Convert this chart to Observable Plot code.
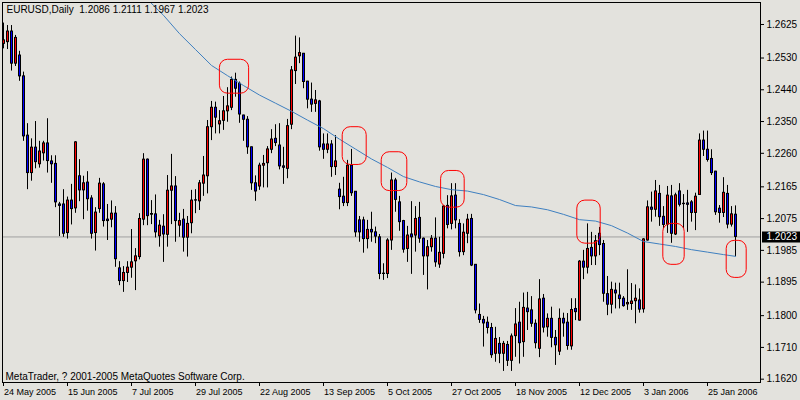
<!DOCTYPE html>
<html><head><meta charset="utf-8">
<script src="https://cdn.jsdelivr.net/npm/d3@7"></script>
<script src="https://cdn.jsdelivr.net/npm/@observablehq/plot@0.6"></script>
<style>
html,body{margin:0;padding:0;background:#e3e2dd;}
#chart{width:800px;height:400px;overflow:hidden;}
</style></head><body><div id="chart"></div>
<script>
const symbol = "EURUSD";
const timeframe = "Daily";
const copyright = "MetaTrader, ? 2001-2005 MetaQuotes Software Corp.";

const opens = [1.2570,1.2575,1.2605,1.2514,1.2537,1.2478,1.2310,1.2204,1.2276,1.2229,
1.2260,1.2288,1.2237,1.2230,1.2115,1.2115,1.2034,1.2126,1.2104,1.2195,
1.2155,1.2177,1.2132,1.2034,1.2102,1.2172,1.2072,1.2072,1.2089,1.1934,
1.1898,1.1921,1.1936,1.1954,1.1966,1.2072,1.2242,1.2088,1.2087,1.2025,
1.2052,1.2029,1.2154,1.2166,1.2055,1.2072,1.2021,1.2062,1.2126,1.2124,
1.2174,1.2195,1.2334,1.2389,1.2342,1.2352,1.2379,1.2389,1.2468,1.2457,
1.2367,1.2355,1.2277,1.2175,1.2166,1.2225,1.2232,1.2270,1.2301,1.2282,
1.2223,1.2216,1.2341,1.2493,1.2535,1.2542,1.2463,1.2412,1.2400,1.2407,
1.2285,1.2270,1.2285,1.2221,1.2157,1.2137,1.2119,1.2225,1.2151,1.2070,
1.2070,1.2017,1.2043,1.2036,1.2022,1.1919,1.1918,1.2013,1.2183,1.2121,
1.2068,1.1989,1.2030,1.2027,1.2077,1.2018,1.1968,1.1994,1.2018,1.1945,
1.1975,1.2111,1.2060,1.2140,1.2060,1.1980,1.2032,1.2074,1.1944,1.1802,
1.1788,1.1780,1.1765,1.1692,1.1720,1.1692,1.1717,1.1672,1.1742,1.1780,
1.1725,1.1820,1.1815,1.1777,1.1706,1.1848,1.1767,1.1791,1.1737,1.1698,
1.1791,1.1780,1.1713,1.1819,1.1786,1.1953,1.1936,1.1992,1.1968,1.2032,
1.2003,1.1861,1.1831,1.1871,1.1857,1.1848,1.1832,1.1833,1.1841,1.1843,
1.1818,1.2013,1.2106,1.2100,1.2145,1.2080,1.2058,1.2138,1.2030,1.2152,
1.2117,1.2118,1.2121,1.2091,1.2142,1.2296,1.2270,1.2244,1.2208,1.2103,
1.2091,1.2145,1.2058,1.2086];
const highs = [1.2629,1.2622,1.2622,1.2594,1.2549,1.2490,1.2344,1.2301,1.2350,1.2294,
1.2294,1.2358,1.2253,1.2253,1.2121,1.2157,1.2136,1.2172,1.2293,1.2242,
1.2195,1.2208,1.2140,1.2106,1.2189,1.2177,1.2115,1.2125,1.2109,1.1953,
1.1939,1.1953,1.2044,1.1990,1.2089,1.2259,1.2244,1.2126,1.2142,1.2070,
1.2086,1.2197,1.2257,1.2194,1.2090,1.2101,1.2081,1.2155,1.2157,1.2183,
1.2251,1.2353,1.2407,1.2405,1.2381,1.2421,1.2446,1.2476,1.2487,1.2462,
1.2368,1.2364,1.2278,1.2196,1.2232,1.2254,1.2279,1.2327,1.2341,1.2344,
1.2277,1.2356,1.2506,1.2592,1.2587,1.2543,1.2464,1.2459,1.2438,1.2410,
1.2315,1.2315,1.2296,1.2310,1.2175,1.2192,1.2240,1.2271,1.2151,1.2081,
1.2079,1.2070,1.2093,1.2051,1.2030,1.1947,1.2018,1.2204,1.2189,1.2138,
1.2070,1.2053,1.2123,1.2109,1.2121,1.2020,1.2013,1.2027,1.2077,1.2022,
1.2112,1.2140,1.2174,1.2174,1.2072,1.2060,1.2087,1.2087,1.1945,1.1833,
1.1798,1.1796,1.1778,1.1767,1.1738,1.1727,1.1727,1.1748,1.1820,1.1838,
1.1864,1.1866,1.1854,1.1788,1.1902,1.1860,1.1805,1.1824,1.1758,1.1819,
1.1807,1.1806,1.1848,1.1848,1.1956,1.1985,1.2060,1.2036,1.2027,1.2050,
1.2013,1.1911,1.1895,1.1892,1.1892,1.1854,1.1930,1.1891,1.1887,1.1876,
1.2018,1.2125,1.2150,1.2183,1.2169,1.2109,1.2166,1.2169,1.2147,1.2174,
1.2143,1.2155,1.2126,1.2147,1.2315,1.2323,1.2323,1.2270,1.2209,1.2112,
1.2191,1.2169,1.2109,1.2111];
const lows = [1.2556,1.2554,1.2493,1.2506,1.2464,1.2294,1.2157,1.2181,1.2216,1.2218,
1.2238,1.2204,1.2175,1.2106,1.2024,1.2022,1.2017,1.2057,1.2090,1.2123,
1.2072,1.2096,1.2017,1.1983,1.2090,1.2051,1.2013,1.2049,1.1937,1.1885,
1.1866,1.1894,1.1906,1.1871,1.1958,1.2055,1.2055,1.2058,1.2020,1.1994,
1.1951,1.1994,1.2058,1.2008,1.2022,1.1980,1.1966,1.2032,1.2089,1.2098,
1.2138,1.2145,1.2296,1.2315,1.2315,1.2325,1.2348,1.2381,1.2419,1.2345,
1.2294,1.2257,1.2155,1.2124,1.2155,1.2162,1.2162,1.2259,1.2279,1.2213,
1.2172,1.2188,1.2327,1.2455,1.2514,1.2443,1.2386,1.2376,1.2376,1.2266,
1.2243,1.2259,1.2192,1.2197,1.2100,1.2109,1.2109,1.2138,1.2022,1.2008,
1.1977,1.1989,1.2008,1.2004,1.1902,1.1900,1.1905,1.1985,1.2093,1.2039,
1.1977,1.1951,1.1917,1.1980,1.2005,1.1914,1.1873,1.1980,1.1937,1.1934,
1.1961,1.2046,1.2043,1.2046,1.1966,1.1970,1.2004,1.1939,1.1805,1.1778,
1.1711,1.1748,1.1679,1.1668,1.1664,1.1642,1.1656,1.1642,1.1682,1.1663,
1.1682,1.1758,1.1767,1.1706,1.1681,1.1751,1.1739,1.1709,1.1659,1.1687,
1.1739,1.1702,1.1702,1.1786,1.1784,1.1902,1.1918,1.1942,1.1942,1.1970,
1.1838,1.1800,1.1805,1.1819,1.1819,1.1824,1.1815,1.1815,1.1777,1.1807,
1.1807,1.2011,1.2065,1.2079,1.2053,1.2046,1.2033,1.2005,1.2027,1.2108,
1.2046,1.2036,1.2065,1.2041,1.2142,1.2251,1.2235,1.2197,1.2084,1.2062,
1.2078,1.2046,1.2051,1.1967];
const closes = [1.2580,1.2605,1.2514,1.2587,1.2478,1.2308,1.2204,1.2276,1.2235,1.2265,
1.2288,1.2238,1.2229,1.2121,1.2111,1.2032,1.2126,1.2102,1.2291,1.2155,
1.2175,1.2130,1.2032,1.2092,1.2174,1.2068,1.2068,1.2089,1.1960,1.1898,
1.1921,1.1936,1.1951,1.1968,1.2074,1.2242,1.2082,1.2086,1.2036,1.2055,
1.2030,1.2154,1.2166,1.2068,1.2068,1.2021,1.2060,1.2126,1.2127,1.2175,
1.2197,1.2334,1.2389,1.2361,1.2351,1.2379,1.2393,1.2468,1.2443,1.2370,
1.2355,1.2277,1.2175,1.2152,1.2225,1.2230,1.2271,1.2299,1.2289,1.2223,
1.2219,1.2337,1.2495,1.2531,1.2544,1.2462,1.2412,1.2398,1.2410,1.2277,
1.2270,1.2285,1.2221,1.2237,1.2136,1.2119,1.2225,1.2147,1.2036,1.2036,
1.2017,1.2043,1.2036,1.2024,1.1918,1.1918,1.2013,1.2183,1.2128,1.2065,
1.1987,1.2027,1.2022,1.2074,1.2018,1.1968,1.1994,1.2018,1.1951,1.1978,
1.2109,1.2057,1.2138,1.2070,1.1980,1.2035,1.2072,1.1942,1.1815,1.1788,
1.1778,1.1765,1.1688,1.1734,1.1692,1.1720,1.1672,1.1741,1.1775,1.1722,
1.1822,1.1810,1.1777,1.1722,1.1846,1.1766,1.1791,1.1737,1.1716,1.1791,
1.1778,1.1714,1.1816,1.1810,1.1953,1.1936,1.1989,1.1968,1.2011,1.2000,
1.1862,1.1831,1.1873,1.1863,1.1847,1.1827,1.1836,1.1840,1.1848,1.1817,
1.2016,1.2107,1.2100,1.2152,1.2079,1.2057,1.2140,1.2032,1.2141,1.2114,
1.2116,1.2114,1.2091,1.2137,1.2296,1.2270,1.2241,1.2204,1.2093,1.2091,
1.2148,1.2058,1.2087,1.2023];

// moving average (bar index, value)
const maBars = [34,36,40,44,48,52,56,60,64,68,72,76,80,84,88,92,96,100,104,108,112,116,120,124,128,132,136,140,144,148,152,156,160,164,168,172,176,180,183];
const maValues = [1.2721,1.2696,1.2651,1.2599,1.2554,1.2509,1.2480,1.2452,1.2425,1.2402,1.2379,1.2354,1.2330,1.2300,1.2272,1.2244,1.2220,1.2194,1.2179,1.2166,1.2157,1.2153,1.2143,1.2129,1.2112,1.2108,1.2100,1.2087,1.2072,1.2068,1.2055,1.2034,1.2010,1.2003,1.1996,1.1987,1.1980,1.1973,1.1968];

const xTickBars = [0,16,32,48,64,80,96,112,128,144,160,176];
const xTickLabels = ["24 May 2005","15 Jun 2005","7 Jul 2005","29 Jul 2005","22 Aug 2005","13 Sep 2005","5 Oct 2005","27 Oct 2005","18 Nov 2005","12 Dec 2005","3 Jan 2006","25 Jan 2006"];
const yTickValues = [1.2625,1.2530,1.2440,1.2350,1.2260,1.2165,1.2075,1.1985,1.1895,1.1800,1.1710,1.1620];

// red highlight boxes (bar range, price range)
const markBarFrom = [54.1,84.8,94.55,109.4,143.45,164.95,180.8];
const markBarTo   = [61.4,90.8,100.95,115.3,149.3,170.3,185.8];
const markHigh    = [1.2525,1.2334,1.2263,1.2210,1.2126,1.2060,1.2012];
const markLow     = [1.2429,1.2227,1.2153,1.2106,1.2004,1.1944,1.1907];

const candles = opens.map((o, i) => ({
  i, o, h: highs[i], l: lows[i], c: closes[i],
  top: Math.max(o, closes[i]), bot: Math.min(o, closes[i]), up: closes[i] > o
}));
const ma = maBars.map((b, k) => ({i: b, v: maValues[k]}));
const boxes = markBarFrom.map((b, k) => ({x1: b, x2: markBarTo[k], y1: markLow[k], y2: markHigh[k]}));
const last = candles[candles.length - 1];
const fmt = d => d.toFixed(4);
const header = `${symbol},${timeframe}\u00a0 ${fmt(last.o)} ${fmt(last.h)} ${fmt(last.l)} ${fmt(last.c)}`;

const bg = "#e3e2dd";
const chart = Plot.plot({
  width: 800, height: 400,
  marginLeft: 2, marginRight: 40, marginTop: 2, marginBottom: 18,
  x: {type: "linear", domain: [-0.25, 189.25], axis: null},
  y: {type: "linear", domain: [1.16106, 1.26873], axis: null},
  style: {background: bg, fontFamily: "'Liberation Sans',Arial,sans-serif", fontSize: "10px", color: "black"},
  marks: [
    Plot.ruleY([last.c], {y: d => d, stroke: "#a0a0a0"}),
    Plot.ruleX(candles, {x: "i", y1: "h", y2: "l", stroke: "black", strokeWidth: 1}),
    Plot.ruleX(candles, {x: "i", y1: "top", y2: "bot", stroke: "black", strokeWidth: 3, insetTop: -0.5, insetBottom: -0.5}),
    Plot.ruleX(candles.filter(d => d.up && d.top - d.bot > 0.0003), {x: "i", y1: "top", y2: "bot", stroke: "#ff0000", strokeWidth: 1, insetTop: 0.5, insetBottom: 0.5}),
    Plot.ruleX(candles.filter(d => !d.up && d.top - d.bot > 0.0003), {x: "i", y1: "top", y2: "bot", stroke: "#0000ff", strokeWidth: 1, insetTop: 0.5, insetBottom: 0.5}),
    Plot.line(ma, {x: "i", y: "v", stroke: "#3f80c0", strokeWidth: 1, clip: true}),
    Plot.rect(boxes, {x1: "x1", x2: "x2", y1: "y1", y2: "y2", stroke: "#ff0000", fill: "none", rx: 8, ry: 8}),
    Plot.frame({stroke: "black"}),
    // right price axis
    Plot.ruleY(yTickValues, {y: d => d, stroke: "black", insetLeft: 759, insetRight: -4}),
    Plot.text(yTickValues, {y: d => d, text: fmt, frameAnchor: "right", textAnchor: "start", dx: 6, fill: "black"}),
    // current price label
    Plot.ruleY([last.c], {y: d => d, stroke: "black", strokeWidth: 11, insetLeft: 760, insetRight: -40}),
    Plot.text([last.c], {y: d => d, text: fmt, frameAnchor: "right", textAnchor: "start", dx: 6, fill: "white"}),
    // time axis
    Plot.ruleX(xTickBars, {x: d => d, stroke: "black", insetTop: 380, insetBottom: -4}),
    Plot.text(xTickBars, {x: d => d, text: (d, k) => xTickLabels[k], frameAnchor: "bottom", textAnchor: "start", lineAnchor: "middle", dy: 10, dx: 0.5, fill: "black", fontSize: 9}),
    // header & copyright
    Plot.text([header], {text: d => d, frameAnchor: "top-left", textAnchor: "start", lineAnchor: "top", dx: 4, dy: 3, fill: "black"}),
    Plot.text([copyright], {text: d => d, frameAnchor: "bottom-left", textAnchor: "start", lineAnchor: "bottom", dx: 3, dy: -3, fill: "black"})
  ]
});
document.getElementById("chart").appendChild(chart);
</script>
</body></html>
